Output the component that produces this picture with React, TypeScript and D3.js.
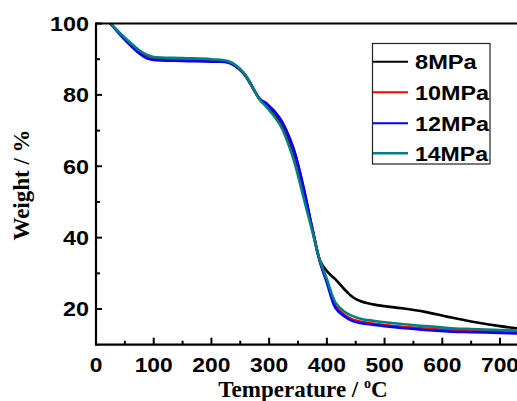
import React from 'react';
import * as d3 from 'd3';

// temperature (°C) sample points shared by all curves
const temps = [25, 50, 75, 90, 100, 150, 200, 230, 255, 284, 296, 319, 341, 359, 375, 388, 400, 415, 430, 445, 460, 480, 500, 530, 570, 610, 650, 700, 740];

// weight (%) for each pressure
const w8 = [100, 95.8, 92.1, 90.8, 90.3, 90.0, 89.7, 89.1, 86.2, 78.8, 77.0, 72.6, 64.6, 53.5, 42.5, 33.6, 30.6, 28.3, 25.6, 23.3, 22.1, 21.3, 20.8, 20.2, 19.2, 17.8, 16.5, 15.2, 14.4];
const w10 = [100, 95.6, 91.8, 90.4, 90.0, 89.7, 89.5, 89.1, 86.2, 78.8, 77.4, 73.2, 65.3, 54.2, 42.3, 33.4, 27.8, 20.8, 18.4, 17.0, 16.4, 15.9, 15.5, 15.0, 14.5, 14.1, 13.8, 13.6, 13.4];
const w12 = [100, 95.4, 91.6, 90.1, 89.8, 89.5, 89.3, 89.0, 86.2, 78.8, 77.5, 73.4, 65.6, 54.6, 42.3, 33.2, 27.4, 20.3, 18.0, 16.6, 16.0, 15.6, 15.2, 14.7, 14.1, 13.7, 13.5, 13.3, 13.1];
const w14 = [100, 96.0, 92.5, 91.1, 90.6, 90.3, 90.0, 89.4, 86.4, 78.6, 76.5, 71.6, 62.6, 51.6, 41.6, 33.6, 28.4, 21.8, 19.3, 18.0, 17.2, 16.7, 16.3, 15.8, 15.2, 14.7, 14.4, 14.1, 13.9];

const seriesNames = ['8MPa', '10MPa', '12MPa', '14MPa'];
const seriesValues = [w8, w10, w12, w14];
const seriesColors = ['#000000', '#ff0000', '#0000ff', '#008080'];

const xMajor = [0, 100, 200, 300, 400, 500, 600, 700];
const xMinor = [50, 150, 250, 350, 450, 550, 650, 750];
const yMajor = [20, 40, 60, 80, 100];
const yMinor = [30, 50, 70, 90];

const W = 517;
const H = 401;

const sans = "'Liberation Sans', Arial, sans-serif";
const serif = "'Liberation Serif', 'Times New Roman', serif";

export default function App() {
  const x = d3.scaleLinear().domain([0, 800]).range([96, 96 + 800 * (404 / 700)]);
  const y = d3.scaleLinear().domain([10, 100]).range([344.7, 23.5]);

  const line = d3
    .line<[number, number]>()
    .x((d) => x(d[0]))
    .y((d) => y(d[1]))
    .curve(d3.curveCatmullRom.alpha(0.5));

  const x0 = x(0);
  const x1 = x(800);
  const yTop = y(100);
  const yBot = y(10);

  // legend rows
  const legendRows = [61.7, 92.3, 123.3, 153.3];
  const legendLen = [61.7, 74, 74, 73];

  return (
    <svg
      width={W}
      height={H}
      style={{ position: 'absolute', left: 0, top: 0, background: '#fff' }}
    >
      <defs>
        <clipPath id="plot">
          <rect x={x0} y={yTop - 2} width={x1 - x0} height={yBot - yTop + 2} />
        </clipPath>
      </defs>
      <rect width={W} height={H} fill="#fff" />

      {/* curves */}
      <g clipPath="url(#plot)">
        {seriesValues.map((vals, i) => (
          <path
            key={seriesNames[i]}
            d={line(temps.map((t, j) => [t, vals[j]] as [number, number])) || ''}
            fill="none"
            stroke={seriesColors[i]}
            strokeWidth={2.6}
          />
        ))}
      </g>

      {/* frame */}
      <g stroke="#000" strokeWidth={2.2} fill="none">
        <line x1={x0} x2={x1} y1={yTop} y2={yTop} />
        <line x1={x0} x2={x1} y1={yBot} y2={yBot} />
        <line x1={x0} x2={x0} y1={yTop - 1} y2={yBot + 1} />
      </g>

      {/* ticks */}
      <g stroke="#000" strokeWidth={2}>
        {xMajor.map((t) => (
          <line key={'xM' + t} x1={x(t)} x2={x(t)} y1={yBot} y2={yBot - 7} />
        ))}
        {xMinor.map((t) => (
          <line key={'xm' + t} x1={x(t)} x2={x(t)} y1={yBot} y2={yBot - 4} />
        ))}
        {yMajor.map((v) => (
          <line key={'yM' + v} x1={x0} x2={x0 + 6} y1={y(v)} y2={y(v)} />
        ))}
        {yMinor.map((v) => (
          <line key={'ym' + v} x1={x0} x2={x0 + 4} y1={y(v)} y2={y(v)} />
        ))}
      </g>

      {/* tick labels */}
      <g fontFamily={sans} fontWeight="bold" fontSize={21} fill="#000">
        {xMajor.map((t) => (
          <text
            key={'xl' + t}
            x={x(t)}
            y={372}
            textAnchor="middle"
            textLength={String(t).length * 12.7}
            lengthAdjust="spacingAndGlyphs"
          >
            {t}
          </text>
        ))}
        {yMajor.map((v) => (
          <text
            key={'yl' + v}
            x={89}
            y={y(v)}
            dy="0.35em"
            textAnchor="end"
            textLength={String(v).length * 13}
            lengthAdjust="spacingAndGlyphs"
          >
            {v}
          </text>
        ))}
      </g>

      {/* axis titles */}
      <text
        x={303}
        y={396.5}
        textAnchor="middle"
        fontFamily={serif}
        fontWeight="bold"
        fontSize={23}
      >
        Temperature / <tspan fontSize={14} dy={-9}>o</tspan>
        <tspan dy={9}>C</tspan>
      </text>
      <text
        transform="translate(29,185) rotate(-90)"
        textAnchor="middle"
        fontFamily={serif}
        fontWeight="bold"
        fontSize={23}
      >
        Weight / %
      </text>

      {/* legend */}
      <rect x={372.5} y={43.5} width={117.5} height={120.5} fill="#fff" stroke="#222" strokeWidth={1.2} />
      {seriesNames.map((name, i) => (
        <g key={'lg' + name}>
          <line
            x1={373}
            x2={408}
            y1={legendRows[i]}
            y2={legendRows[i]}
            stroke={seriesColors[i]}
            strokeWidth={i === 3 ? 2.6 : 2}
          />
          <text
            x={415}
            y={legendRows[i]}
            dy="0.35em"
            fontFamily={sans}
            fontWeight="bold"
            fontSize={21}
            textLength={legendLen[i]}
            lengthAdjust="spacingAndGlyphs"
          >
            {name}
          </text>
        </g>
      ))}
    </svg>
  );
}
